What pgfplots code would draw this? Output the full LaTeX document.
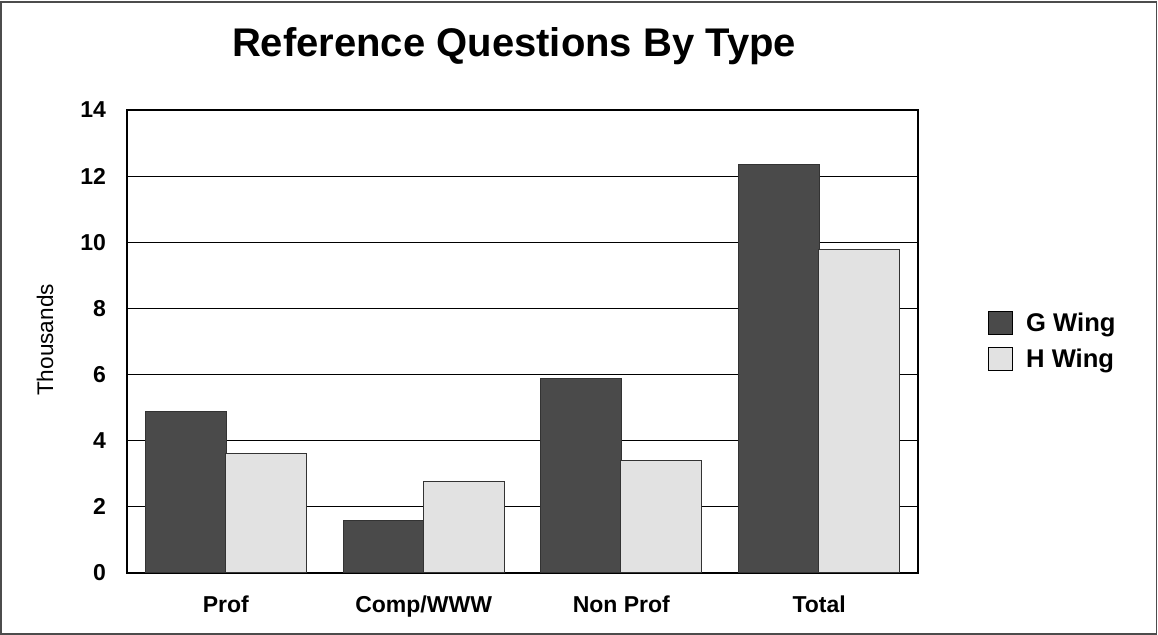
\documentclass[border=0pt]{standalone}
\usepackage{fontspec}
\setmainfont{Liberation Sans}
\usepackage{pgfplots}
\pgfplotsset{compat=1.18}
\definecolor{gdark}{HTML}{4A4A4A}
\definecolor{hlight}{HTML}{E2E2E2}
\begin{document}
\begin{tikzpicture}
\useasboundingbox (0,0) rectangle (579pt,317.5pt);
\draw[line width=0.8pt, black!70] (0.6pt,0.6pt) rectangle (578.2pt,316.6pt);
\node[font=\bfseries\fontsize{20}{22}\selectfont] at (257pt,294.5pt) {Reference Questions By Type};
\node[rotate=90, font=\fontsize{11.3}{13}\selectfont] at (22.5pt,147.5pt) {Thousands};
\begin{axis}[
  at={(63.5pt,31pt)}, anchor=south west,
  scale only axis, width=395.5pt, height=231.5pt,
  ybar, bar width=40.5pt,
  xmin=-0.5, xmax=3.5, ymin=0, ymax=14,
  ytick={0,2,...,14},
  xtick={0,1,2,3},
  xticklabels={Prof,Comp/WWW,Non Prof,Total},
  major tick length=0pt,
  ymajorgrids, grid style={black, line width=0.5pt},
  axis line style={black, line width=0.6pt},
  /pgf/number format/assume math mode=true,
  ticklabel style={font=\bfseries\fontsize{11.5}{13}\selectfont},
  yticklabel style={xshift=-7pt},
  xticklabel style={yshift=-8pt},
  legend style={at={(1.08,0.5)}, anchor=west, draw=none, fill=none,
    font=\bfseries\fontsize{12.8}{14}\selectfont, row sep=3pt},
  legend cell align=left,
  legend image code/.code={\draw[#1, draw=black] (0pt,-5.5pt) rectangle (12pt,6pt); \path[draw=none,fill=none] (12pt,0) -- (17pt,0);},
]
\addplot[fill=gdark, draw=black!80, line width=0.5pt, bar shift=-20pt] coordinates {(0,4.88) (1,1.6) (2,5.88) (3,12.35)};
\addplot[fill=hlight, draw=black!80, line width=0.5pt, bar shift=20pt] coordinates {(0,3.6) (1,2.78) (2,3.39) (3,9.77)};
\legend{G Wing, H Wing}
\end{axis}
\end{tikzpicture}
\end{document}
